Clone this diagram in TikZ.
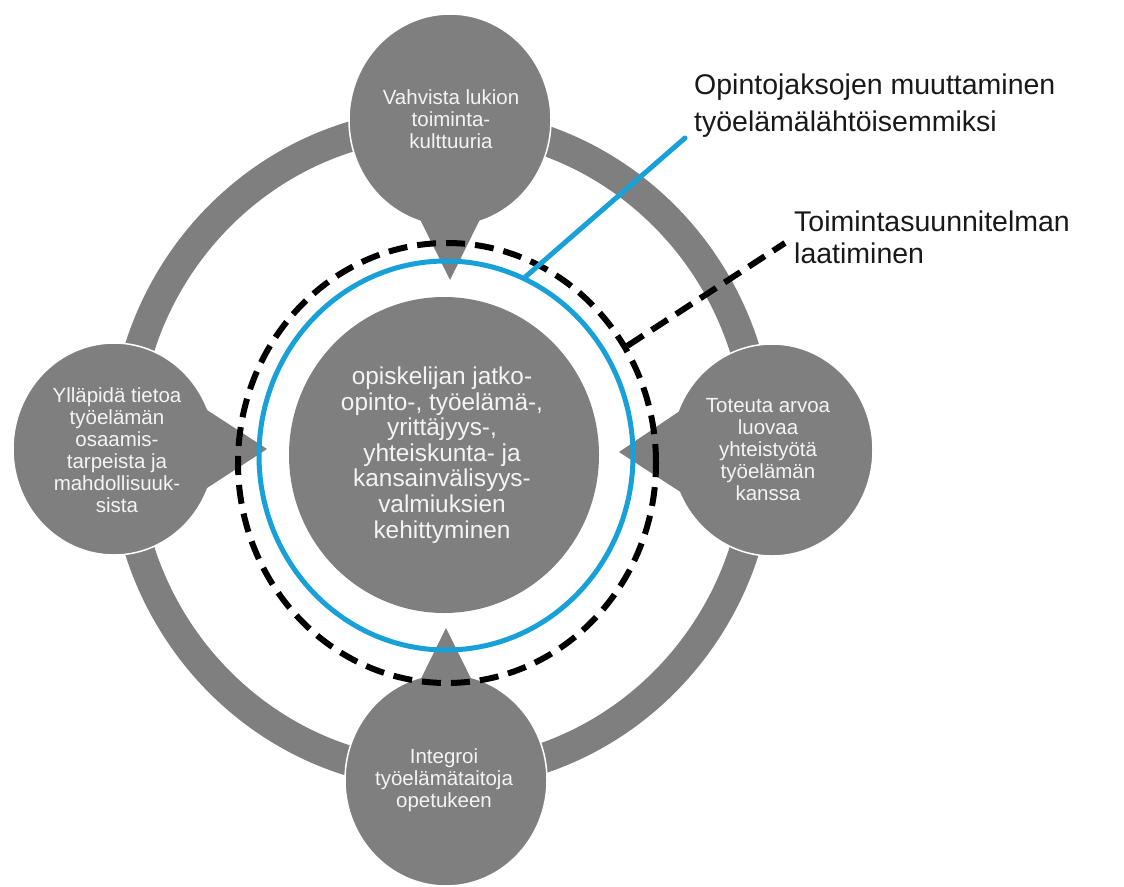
\documentclass[tikz,border=0pt]{standalone}
\usepackage{fontspec}
\setmainfont{Liberation Sans}
\usetikzlibrary{shapes.geometric}
\definecolor{ggray}{RGB}{127,127,127}
\definecolor{cblue}{RGB}{24,160,216}
\definecolor{ctext}{RGB}{244,244,244}
\definecolor{ltext}{RGB}{25,25,25}
\begin{document}
\begin{tikzpicture}[x=1pt,y=-1pt,
  ringstyle/.style={ellipse, draw=ggray, line width=30pt, minimum width=636pt, minimum height=652pt, inner sep=0pt},
  bubble/.style={ellipse, fill=ggray, draw=white, line width=1.5pt, minimum width=202pt, minimum height=212pt, inner sep=0pt},
  pointer/.style={fill=ggray},
  btext/.style={text=ctext, align=center, inner sep=0pt, font=\fontsize{20.5}{22}\selectfont},
  ctxt/.style={text=ctext, align=center, inner sep=0pt, font=\fontsize{24.4}{25.6}\selectfont},
  lab/.style={text=ltext, align=left, anchor=west, inner sep=0pt},
  dashring/.style={ellipse, draw=black, line width=6pt, dash pattern=on 19pt off 10pt, inner sep=0pt},
  bluering/.style={ellipse, draw=cblue, line width=5pt, inner sep=0pt},
  blueline/.style={draw=cblue, line width=5pt, line cap=round},
  dashline/.style={draw=black, line width=6pt, dash pattern=on 19pt off 10pt}
]
\useasboundingbox (0,0) rectangle (1124,886);
% outer ring
\node[ringstyle] (ring) at (442,449) {};
% bubbles
\node[bubble] (top) at (450,120) {};
\node[bubble] (left) at (114,449) {};
\node[bubble] (right) at (772,450) {};
\node[bubble] (bottom) at (446,780) {};
% pointers
\fill[pointer] (408,195) -- (450,280) -- (492,195) -- cycle;
\fill[pointer] (187,397) -- (267,449) -- (187,501) -- cycle;
\fill[pointer] (699,398) -- (619,452) -- (699,504) -- cycle;
\fill[pointer] (404,713) -- (446,628) -- (488,713) -- cycle;
% centre
\node[ellipse, fill=ggray, minimum width=310pt, minimum height=316pt, inner sep=0pt] (core) at (444,455) {};
% rings
\node[dashring, minimum width=418pt, minimum height=440pt] (dash) at (447,463) {};
\node[bluering, minimum width=374pt, minimum height=389pt] (blue) at (446,455.5) {};
% texts
\node[btext] (ttop) at (451,119) {Vahvista lukion\\toiminta-\\kulttuuria};
\node[btext] (tleft) at (117,450) {Ylläpidä tietoa\\työelämän\\osaamis-\\tarpeista ja\\mahdollisuuk-\\sista};
\node[btext] (tright) at (768,450) {Toteuta arvoa\\luovaa\\yhteistyötä\\työelämän\\kanssa};
\node[btext] (tbottom) at (444,780) {Integroi\\työelämätaitoja\\opetukeen};
\node[ctxt] (tcore) at (442,455) {opiskelijan jatko-\\opinto-, työelämä-,\\yrittäjyys-,\\yhteiskunta- ja\\kansainvälisyys-\\valmiuksien\\kehittyminen};
% labels
\node[lab, font=\fontsize{28.5}{37}\selectfont] (lab1) at (694,106) {Opintojaksojen muuttaminen\\työelämälähtöisemmiksi};
\node[lab, font=\fontsize{28.5}{32}\selectfont] (lab2) at (794,237) {Toimintasuunnitelman\\laatiminen};
% leaders
\coordinate (bend) at (685,138);
\coordinate (dend) at (785,243);
\draw[blueline] (blue.66) -- (bend);
\draw[dashline] (dash.33) -- (dend);
\end{tikzpicture}
\end{document}
